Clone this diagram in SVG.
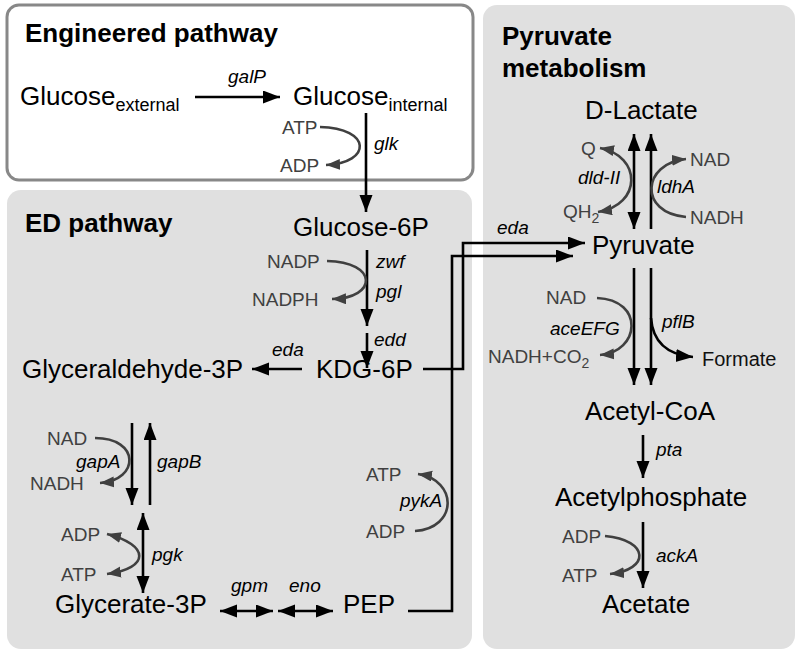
<svg xmlns="http://www.w3.org/2000/svg" width="800" height="654" viewBox="0 0 800 654">
<defs>
<marker id="ah" markerUnits="userSpaceOnUse" markerWidth="18" markerHeight="14" refX="17" refY="6.5" orient="auto-start-reverse"><path d="M0,0 L17,6.5 L0,13 z" fill="#000"/></marker>
<marker id="ag" markerUnits="userSpaceOnUse" markerWidth="16" markerHeight="12" refX="14" refY="5.5" orient="auto-start-reverse"><path d="M0,0 L14,5.5 L0,11 z" fill="#404040"/></marker>
<style>
text{font-family:"Liberation Sans",Arial,sans-serif;}
.t{font-size:26px;fill:#000;font-weight:bold;}
.m{font-size:26px;fill:#000;}
.c{font-size:19px;fill:#404040;}
.g{font-size:19px;fill:#000;font-style:italic;}
.s{font-size:18px;}
.ln{stroke:#000;stroke-width:2.6;fill:none;}
.cv{stroke:#404040;stroke-width:2.6;fill:none;}
</style>
</defs>
<g id="boxes">
<rect x="7" y="5" width="466" height="175" rx="12" fill="#fff" stroke="#888" stroke-width="3"/>
<rect x="7" y="190" width="465" height="459" rx="14" fill="#e0e0e0"/>
<rect x="483" y="5" width="312" height="644" rx="14" fill="#e0e0e0"/>
</g>
<g id="titles">
<text class="t" x="25" y="42">Engineered pathway</text>
<text class="t" x="25" y="232">ED pathway</text>
<text class="t" x="502" y="45">Pyruvate</text>
<text class="t" x="502" y="77">metabolism</text>
</g>
<g id="connectors">
<line class="ln" x1="195" y1="97" x2="280" y2="97" marker-end="url(#ah)"/>
<line class="ln" x1="366" y1="113" x2="366" y2="212" marker-end="url(#ah)"/>
<path class="cv" d="M320,127 C372,128 372,163 326,165" marker-end="url(#ag)"/>
<line class="ln" x1="367" y1="250" x2="367" y2="326" marker-end="url(#ah)"/>
<path class="cv" d="M327,261 C378,262 378,298 332,299" marker-end="url(#ag)"/>
<line class="ln" x1="367" y1="333" x2="367" y2="368" marker-end="url(#ah)"/>
<line class="ln" x1="302" y1="369" x2="252" y2="369" marker-end="url(#ah)"/>
<line class="ln" x1="132" y1="423" x2="132" y2="505" marker-end="url(#ah)"/>
<line class="ln" x1="150" y1="505" x2="150" y2="423" marker-end="url(#ah)"/>
<path class="cv" d="M95,438 C140,438 140,480 100,483" marker-end="url(#ag)"/>
<line class="ln" x1="143" y1="513" x2="143" y2="593" marker-start="url(#ah)" marker-end="url(#ah)"/>
<path class="cv" d="M107,534 C150,545 150,568 107,574" marker-start="url(#ag)" marker-end="url(#ag)"/>
<line class="ln" x1="220" y1="611" x2="273" y2="611" marker-start="url(#ah)" marker-end="url(#ah)"/>
<line class="ln" x1="278" y1="611" x2="333" y2="611" marker-start="url(#ah)" marker-end="url(#ah)"/>
<path class="ln" d="M408,611 H452 V256 H573" marker-end="url(#ah)"/>
<path class="ln" d="M423,369 H463 V243 H585" marker-end="url(#ah)"/>
<path class="cv" d="M415,531 C458,528 458,480 418,474" marker-end="url(#ag)"/>
<line class="ln" x1="634" y1="134" x2="634" y2="229" marker-start="url(#ah)" marker-end="url(#ah)"/>
<line class="ln" x1="651" y1="229" x2="651" y2="134" marker-end="url(#ah)"/>
<path class="cv" d="M600,148 C642,156 642,205 598,212" marker-start="url(#ag)" marker-end="url(#ag)"/>
<path class="cv" d="M686,217 C638,213 642,163 686,159" marker-end="url(#ag)"/>
<line class="ln" x1="634" y1="268" x2="634" y2="385" marker-end="url(#ah)"/>
<line class="ln" x1="651" y1="268" x2="651" y2="385" marker-end="url(#ah)"/>
<path class="cv" d="M597,298 C645,300 640,352 600,355" marker-end="url(#ag)"/>
<path class="ln" d="M651,318 C653,345 670,355 693,357" marker-end="url(#ah)"/>
<line class="ln" x1="643" y1="435" x2="643" y2="478" marker-end="url(#ah)"/>
<line class="ln" x1="643" y1="522" x2="643" y2="588" marker-end="url(#ah)"/>
<path class="cv" d="M605,536 C650,540 650,570 610,574" marker-end="url(#ag)"/>
</g>
<g id="n-glc-ext"><text class="m" x="20" y="105">Glucose<tspan class="s" dy="6">external</tspan></text></g>
<g id="n-glc-int"><text class="m" x="293" y="105">Glucose<tspan class="s" dy="6">internal</tspan></text></g>
<g id="n-g6p"><text class="m" x="293" y="236">Glucose-6P</text></g>
<g id="n-kdg"><text class="m" x="316" y="378">KDG-6P</text></g>
<g id="n-gap"><text class="m" x="22" y="378">Glyceraldehyde-3P</text></g>
<g id="n-g3p"><text class="m" x="55" y="613">Glycerate-3P</text></g>
<g id="n-pep"><text class="m" x="343" y="613">PEP</text></g>
<g id="n-lac"><text class="m" x="585" y="119">D-Lactate</text></g>
<g id="n-pyr"><text class="m" x="592" y="254">Pyruvate</text></g>
<g id="n-accoa"><text class="m" x="585" y="420">Acetyl-CoA</text></g>
<g id="n-acp"><text class="m" x="555" y="506">Acetylphosphate</text></g>
<g id="n-ac"><text class="m" x="602" y="613">Acetate</text></g>
<g id="n-formate"><text x="702" y="366" font-size="20" fill="#111">Formate</text></g>
<g id="cofactors">
<text class="c" x="282" y="134">ATP</text>
<text class="c" x="280" y="172">ADP</text>
<text class="c" x="267" y="268">NADP</text>
<text class="c" x="252" y="306">NADPH</text>
<text class="c" x="47" y="445">NAD</text>
<text class="c" x="30" y="490">NADH</text>
<text class="c" x="61" y="541">ADP</text>
<text class="c" x="61" y="581">ATP</text>
<text class="c" x="366" y="481">ATP</text>
<text class="c" x="366" y="538">ADP</text>
<text class="c" x="581" y="155">Q</text>
<text class="c" x="563" y="218">QH<tspan font-size="14" dy="5">2</tspan></text>
<text class="c" x="690" y="166">NAD</text>
<text class="c" x="690" y="224">NADH</text>
<text class="c" x="546" y="304">NAD</text>
<text class="c" x="488" y="363">NADH+CO<tspan font-size="14" dy="5">2</tspan></text>
<text class="c" x="562" y="543">ADP</text>
<text class="c" x="562" y="582">ATP</text>
</g>
<g id="genes">
<text class="g" x="228" y="83">galP</text>
<text class="g" x="374" y="150">glk</text>
<text class="g" x="376" y="268">zwf</text>
<text class="g" x="376" y="298">pgl</text>
<text class="g" x="374" y="346">edd</text>
<text class="g" x="272" y="356">eda</text>
<text class="g" x="76" y="468">gapA</text>
<text class="g" x="157" y="468">gapB</text>
<text class="g" x="152" y="561">pgk</text>
<text class="g" x="231" y="592">gpm</text>
<text class="g" x="289" y="592">eno</text>
<text class="g" x="400" y="507">pykA</text>
<text class="g" x="497" y="234">eda</text>
<text class="g" x="578" y="184">dld-II</text>
<text class="g" x="657" y="193">ldhA</text>
<text class="g" x="550" y="335">aceEFG</text>
<text class="g" x="662" y="328">pflB</text>
<text class="g" x="656" y="456">pta</text>
<text class="g" x="656" y="562">ackA</text>
</g>
</svg>
